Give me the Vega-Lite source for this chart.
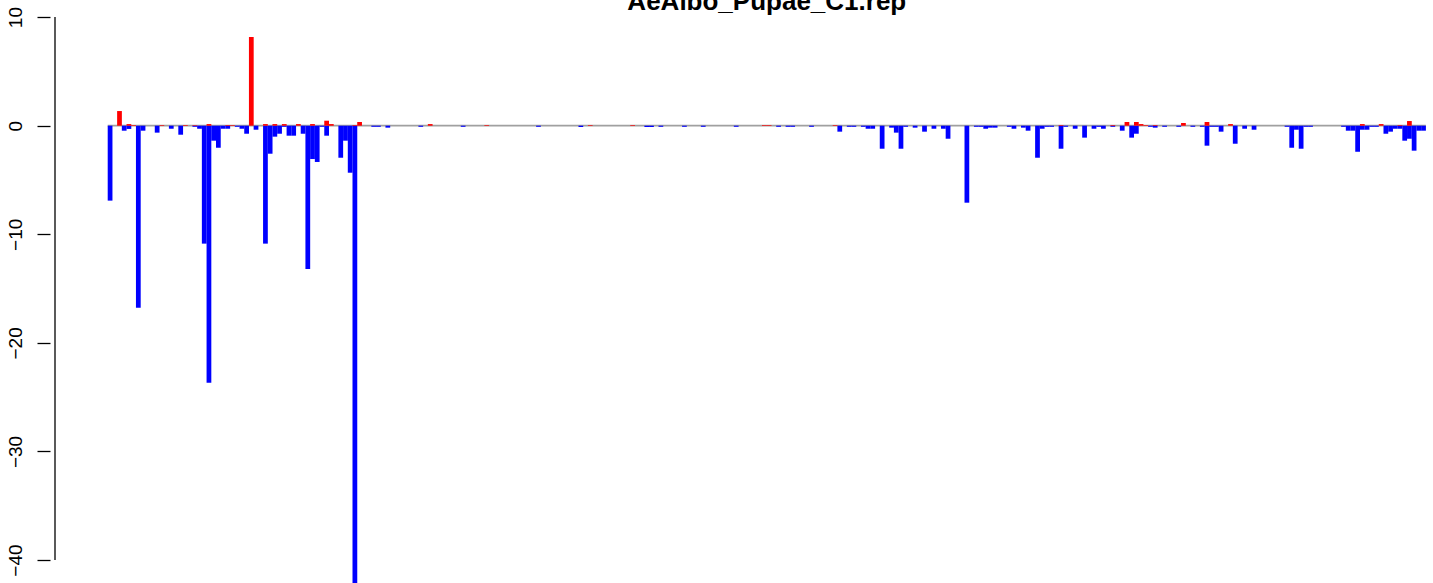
{
  "$schema": "https://vega.github.io/schema/vega-lite/v6.json",
  "width": 1383,
  "height": 583,
  "autosize": {"type": "none"},
  "padding": {"left": 50, "top": 0, "right": 0, "bottom": 0},
  "background": "white",
  "config": {"view": {"stroke": null}},
  "layer": [
    {
      "data": {"values": [{"a": 0}]},
      "mark": {"type": "rule", "color": "#A0A0A0", "strokeWidth": 1.7},
      "encoding": {
        "x": {"datum": -0.5, "type": "quantitative", "scale": {"domain": [-11.7, 279.95], "nice": false, "zero": false}, "axis": null},
        "x2": {"datum": 279.5},
        "y": {"datum": 0, "type": "quantitative", "scale": {"domain": [-42.11, 11.575], "nice": false, "zero": false}}
      }
    },
    {
      "data": {"values": [
        {"i":0,"v":-6.9,"s":"down"},{"i":3,"v":-0.46,"s":"down"},{"i":4,"v":-0.3,"s":"down"},{"i":6,"v":-16.76,"s":"down"},{"i":7,"v":-0.46,"s":"down"},
        {"i":10,"v":-0.64,"s":"down"},{"i":13,"v":-0.28,"s":"down"},{"i":15,"v":-0.83,"s":"down"},{"i":18,"v":-0.1,"s":"down"},{"i":19,"v":-0.28,"s":"down"},
        {"i":20,"v":-10.86,"s":"down"},{"i":21,"v":-23.66,"s":"down"},{"i":22,"v":-1.38,"s":"down"},{"i":23,"v":-2.03,"s":"down"},{"i":24,"v":-0.28,"s":"down"},
        {"i":25,"v":-0.28,"s":"down"},{"i":27,"v":-0.1,"s":"down"},{"i":28,"v":-0.28,"s":"down"},{"i":29,"v":-0.74,"s":"down"},{"i":31,"v":-0.37,"s":"down"},
        {"i":33,"v":-10.86,"s":"down"},{"i":34,"v":-2.58,"s":"down"},{"i":35,"v":-1.01,"s":"down"},{"i":36,"v":-0.74,"s":"down"},{"i":37,"v":-0.1,"s":"down"},
        {"i":38,"v":-0.92,"s":"down"},{"i":39,"v":-0.92,"s":"down"},{"i":41,"v":-0.74,"s":"down"},{"i":42,"v":-13.2,"s":"down"},{"i":43,"v":-3.07,"s":"down"},
        {"i":44,"v":-3.34,"s":"down"},{"i":45,"v":-0.1,"s":"down"},{"i":46,"v":-0.92,"s":"down"},{"i":49,"v":-2.95,"s":"down"},{"i":50,"v":-1.38,"s":"down"},
        {"i":51,"v":-4.33,"s":"down"},{"i":52,"v":-42.1,"s":"down"},{"i":56,"v":-0.1,"s":"down"},{"i":57,"v":-0.1,"s":"down"},{"i":59,"v":-0.18,"s":"down"},
        {"i":66,"v":-0.1,"s":"down"},{"i":75,"v":-0.1,"s":"down"},{"i":91,"v":-0.1,"s":"down"},{"i":100,"v":-0.12,"s":"down"},{"i":114,"v":-0.12,"s":"down"},
        {"i":115,"v":-0.12,"s":"down"},{"i":117,"v":-0.1,"s":"down"},{"i":122,"v":-0.1,"s":"down"},{"i":126,"v":-0.1,"s":"down"},{"i":133,"v":-0.1,"s":"down"},
        {"i":142,"v":-0.1,"s":"down"},{"i":144,"v":-0.1,"s":"down"},{"i":145,"v":-0.1,"s":"down"},{"i":149,"v":-0.1,"s":"down"},{"i":155,"v":-0.55,"s":"down"},
        {"i":157,"v":-0.1,"s":"down"},{"i":158,"v":-0.1,"s":"down"},{"i":160,"v":-0.1,"s":"down"},{"i":161,"v":-0.28,"s":"down"},{"i":162,"v":-0.28,"s":"down"},
        {"i":164,"v":-2.12,"s":"down"},{"i":166,"v":-0.18,"s":"down"},{"i":167,"v":-0.64,"s":"down"},{"i":168,"v":-2.12,"s":"down"},{"i":169,"v":-0.1,"s":"down"},
        {"i":171,"v":-0.18,"s":"down"},{"i":173,"v":-0.55,"s":"down"},{"i":175,"v":-0.28,"s":"down"},{"i":177,"v":-0.28,"s":"down"},{"i":178,"v":-1.2,"s":"down"},
        {"i":182,"v":-7.09,"s":"down"},{"i":184,"v":-0.1,"s":"down"},{"i":185,"v":-0.1,"s":"down"},{"i":186,"v":-0.28,"s":"down"},{"i":187,"v":-0.18,"s":"down"},
        {"i":188,"v":-0.18,"s":"down"},{"i":191,"v":-0.1,"s":"down"},{"i":192,"v":-0.28,"s":"down"},{"i":194,"v":-0.18,"s":"down"},{"i":195,"v":-0.46,"s":"down"},
        {"i":197,"v":-2.95,"s":"down"},{"i":198,"v":-0.28,"s":"down"},{"i":199,"v":-0.1,"s":"down"},{"i":200,"v":-0.1,"s":"down"},{"i":202,"v":-2.12,"s":"down"},
        {"i":203,"v":-0.1,"s":"down"},{"i":205,"v":-0.28,"s":"down"},{"i":207,"v":-1.1,"s":"down"},{"i":209,"v":-0.28,"s":"down"},{"i":210,"v":-0.1,"s":"down"},
        {"i":211,"v":-0.28,"s":"down"},{"i":213,"v":-0.1,"s":"down"},{"i":215,"v":-0.46,"s":"down"},{"i":217,"v":-1.1,"s":"down"},{"i":218,"v":-0.74,"s":"down"},
        {"i":221,"v":-0.1,"s":"down"},{"i":222,"v":-0.18,"s":"down"},{"i":224,"v":-0.1,"s":"down"},{"i":227,"v":-0.1,"s":"down"},{"i":230,"v":-0.1,"s":"down"},
        {"i":232,"v":-0.1,"s":"down"},{"i":233,"v":-1.84,"s":"down"},{"i":234,"v":-0.1,"s":"down"},{"i":235,"v":-0.1,"s":"down"},{"i":236,"v":-0.55,"s":"down"},
        {"i":239,"v":-1.66,"s":"down"},{"i":241,"v":-0.28,"s":"down"},{"i":243,"v":-0.37,"s":"down"},{"i":250,"v":-0.1,"s":"down"},{"i":251,"v":-2.03,"s":"down"},
        {"i":252,"v":-0.37,"s":"down"},{"i":253,"v":-2.12,"s":"down"},{"i":254,"v":-0.1,"s":"down"},{"i":255,"v":-0.1,"s":"down"},{"i":262,"v":-0.1,"s":"down"},
        {"i":263,"v":-0.46,"s":"down"},{"i":264,"v":-0.46,"s":"down"},{"i":265,"v":-2.4,"s":"down"},{"i":266,"v":-0.37,"s":"down"},{"i":267,"v":-0.37,"s":"down"},
        {"i":268,"v":-0.1,"s":"down"},{"i":269,"v":-0.1,"s":"down"},{"i":271,"v":-0.74,"s":"down"},{"i":272,"v":-0.55,"s":"down"},{"i":273,"v":-0.28,"s":"down"},
        {"i":274,"v":-0.28,"s":"down"},{"i":275,"v":-1.38,"s":"down"},{"i":276,"v":-1.2,"s":"down"},{"i":277,"v":-2.3,"s":"down"},{"i":278,"v":-0.46,"s":"down"},
        {"i":279,"v":-0.46,"s":"down"},
        {"i":2,"v":1.35,"s":"up"},{"i":4,"v":0.15,"s":"up"},{"i":5,"v":0.06,"s":"up"},{"i":11,"v":0.06,"s":"up"},{"i":16,"v":0.06,"s":"up"},
        {"i":18,"v":0.05,"s":"up"},{"i":21,"v":0.15,"s":"up"},{"i":25,"v":0.06,"s":"up"},{"i":26,"v":0.06,"s":"up"},{"i":30,"v":8.17,"s":"up"},
        {"i":33,"v":0.15,"s":"up"},{"i":35,"v":0.15,"s":"up"},{"i":37,"v":0.15,"s":"up"},{"i":40,"v":0.15,"s":"up"},{"i":43,"v":0.15,"s":"up"},
        {"i":46,"v":0.46,"s":"up"},{"i":47,"v":0.15,"s":"up"},{"i":52,"v":0.06,"s":"up"},{"i":53,"v":0.34,"s":"up"},{"i":68,"v":0.15,"s":"up"},
        {"i":80,"v":0.06,"s":"up"},{"i":102,"v":0.06,"s":"up"},{"i":111,"v":0.06,"s":"up"},{"i":139,"v":0.06,"s":"up"},{"i":140,"v":0.06,"s":"up"},
        {"i":154,"v":0.06,"s":"up"},{"i":202,"v":0.06,"s":"up"},{"i":213,"v":0.06,"s":"up"},{"i":216,"v":0.34,"s":"up"},{"i":218,"v":0.34,"s":"up"},
        {"i":219,"v":0.15,"s":"up"},{"i":220,"v":0.06,"s":"up"},{"i":222,"v":0.06,"s":"up"},{"i":228,"v":0.25,"s":"up"},{"i":233,"v":0.34,"s":"up"},
        {"i":238,"v":0.15,"s":"up"},{"i":266,"v":0.15,"s":"up"},{"i":270,"v":0.15,"s":"up"},{"i":274,"v":0.06,"s":"up"},{"i":276,"v":0.43,"s":"up"}
      ]},
      "mark": {"type": "bar", "width": 4.75},
      "encoding": {
        "x": {"field": "i", "type": "quantitative", "scale": {"domain": [-11.7, 279.95], "nice": false, "zero": false}, "axis": null},
        "y": {"field": "v", "type": "quantitative", "stack": null, "scale": {"domain": [-42.11, 11.575], "nice": false, "zero": false},
              "axis": {"values": [-40, -30, -20, -10, 0, 10], "title": null, "domain": false, "grid": false, "tickSize": 13, "tickWidth": 1.3, "tickColor": "black",
                       "labelAngle": -90, "labelAlign": "center", "labelBaseline": "alphabetic", "labelPadding": 16, "labelFont": "Liberation Sans",
                       "labelFontSize": 19, "labelColor": "black", "labelFlush": false, "labelOverlap": false}},
        "color": {"field": "s", "type": "nominal", "scale": {"domain": ["up", "down"], "range": ["#FF0000", "#0000FF"]}, "legend": null}
      }
    },
    {
      "data": {"values": [{"a": 0}]},
      "mark": {"type": "rule", "color": "black", "strokeWidth": 1.3},
      "encoding": {
        "x": {"datum": -11.7, "type": "quantitative", "scale": {"domain": [-11.7, 279.95], "nice": false, "zero": false}, "axis": null},
        "y": {"datum": 10, "type": "quantitative", "scale": {"domain": [-42.11, 11.575], "nice": false, "zero": false}},
        "y2": {"datum": -40}
      }
    },
    {
      "data": {"values": [{"title": "AeAlbo_Pupae_C1.rep"}]},
      "mark": {"type": "text", "font": "Liberation Sans", "fontSize": 26, "fontWeight": "bold", "color": "black", "align": "center", "baseline": "alphabetic"},
      "encoding": {
        "x": {"datum": 139.5, "type": "quantitative", "scale": {"domain": [-11.7, 279.95], "nice": false, "zero": false}, "axis": null},
        "y": {"datum": 10.7, "type": "quantitative", "scale": {"domain": [-42.11, 11.575], "nice": false, "zero": false}},
        "text": {"field": "title"}
      }
    }
  ]
}
